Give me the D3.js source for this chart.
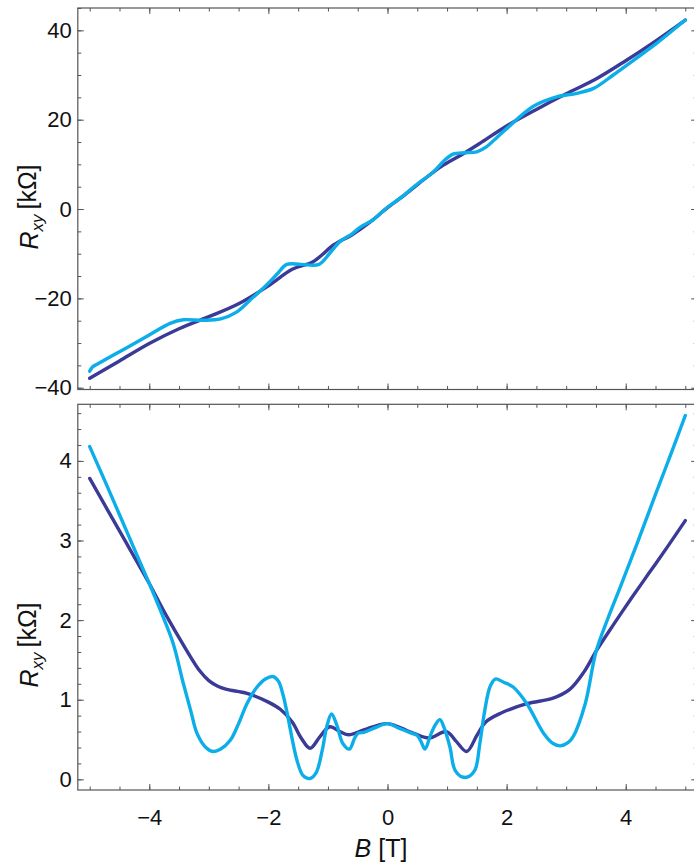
<!DOCTYPE html>
<html>
<head>
<meta charset="utf-8">
<script src="https://cdn.jsdelivr.net/npm/d3@7"></script>
<style>
  html, body { margin: 0; padding: 0; background: #fff; }
  svg { display: block; font-family: "Liberation Sans", Arial, sans-serif; }
</style>
</head>
<body>
<svg id="chart" width="694" height="862"></svg>
<script>
// Hall resistance R_xy versus magnetic field B, two traces per panel.

// Upper panel: R_xy [kOhm]
const bUpperDark = [-5.0, -4.5, -4.0, -3.5, -3.0, -2.5, -2.0, -1.6, -1.25, -0.9, -0.6, -0.3, 0.0,
  0.3, 0.6, 0.9, 1.25, 1.55, 2.0, 2.5, 3.0, 3.5, 4.0, 4.5, 5.0];
const rUpperDark = [-37.9, -34.0, -30.1, -26.8, -24.1, -21.2, -17.2, -13.5, -11.8, -8.0, -5.8, -3.0, 0.3,
  3.3, 6.5, 9.5, 12.2, 14.7, 18.6, 22.3, 25.8, 29.1, 33.2, 37.6, 42.3];

const bUpperLight = [-5.0, -4.95, -4.9, -4.4, -4.0, -3.65, -3.43, -3.1, -2.8, -2.55, -2.3, -2.03, -1.85,
  -1.69, -1.45, -1.15, -0.97, -0.8, -0.6, -0.45, -0.24, 0.0, 0.21, 0.5, 0.77, 0.95, 1.1, 1.3, 1.5, 1.66,
  1.85, 2.0, 2.45, 2.84, 3.18, 3.46, 3.79, 4.13, 4.5, 5.0];
const rUpperLight = [-36.3, -35.3, -34.9, -31.2, -28.2, -25.6, -24.8, -24.9, -24.6, -23.2, -20.3, -17.0, -14.5,
  -12.4, -12.4, -12.4, -9.9, -7.3, -5.6, -4.0, -2.4, 0.4, 2.4, 5.6, 8.3, 10.8, 12.3, 12.6, 12.8, 13.9,
  16.2, 18.0, 23.0, 25.1, 25.9, 27.0, 30.0, 33.3, 36.9, 42.3];

// Lower panel: R_xy [kOhm]
const bLowerDark = [-5.0, -4.5, -4.0, -3.76, -3.5, -3.3, -3.15, -3.0, -2.85, -2.7, -2.36, -2.0, -1.8, -1.6,
  -1.45, -1.3, -1.13, -0.97, -0.8, -0.65, -0.4, 0.0, 0.4, 0.7, 0.99, 1.15, 1.33, 1.5, 1.65, 1.9, 2.34,
  2.78, 3.06, 3.3, 3.51, 3.8, 4.1, 4.4, 4.7, 5.0];
const rLowerDark = [3.78, 3.12, 2.46, 2.12, 1.78, 1.53, 1.36, 1.24, 1.17, 1.13, 1.08, 0.97, 0.88, 0.72,
  0.52, 0.39, 0.54, 0.66, 0.60, 0.56, 0.62, 0.70, 0.59, 0.52, 0.60, 0.48, 0.35, 0.55, 0.72, 0.83, 0.95,
  1.02, 1.13, 1.35, 1.62, 1.95, 2.28, 2.6, 2.92, 3.25];

const bLowerLight = [-5.0, -4.7, -4.33, -4.0, -3.8, -3.6, -3.43, -3.3, -3.2, -3.05, -2.93, -2.8, -2.64,
  -2.5, -2.36, -2.2, -2.05, -1.92, -1.83, -1.75, -1.69, -1.52, -1.42, -1.3, -1.2, -1.1, -1.02, -0.94,
  -0.85, -0.75, -0.64, -0.55, -0.49, -0.4, -0.2, 0.0, 0.2, 0.4, 0.5, 0.56, 0.63, 0.72, 0.8, 0.88, 0.95,
  1.05, 1.13, 1.25, 1.35, 1.47, 1.55, 1.63, 1.72, 1.81, 1.95, 2.11, 2.34, 2.62, 2.78, 2.9, 3.03, 3.12,
  3.32, 3.5, 3.7, 3.9, 4.2, 4.5, 4.75, 5.0];
const rLowerLight = [4.18, 3.67, 3.03, 2.46, 2.1, 1.71, 1.21, 0.85, 0.58, 0.40, 0.35, 0.38, 0.49,
  0.70, 0.95, 1.15, 1.26, 1.29, 1.23, 1.05, 0.85, 0.24, 0.05, 0.01, 0.08, 0.35, 0.66, 0.82,
  0.68, 0.45, 0.38, 0.52, 0.58, 0.59, 0.65, 0.70, 0.64, 0.58, 0.55, 0.48, 0.38, 0.55, 0.68, 0.75, 0.65,
  0.40, 0.12, 0.03, 0.03, 0.12, 0.45, 0.85, 1.16, 1.26, 1.22, 1.16, 0.95, 0.58, 0.45, 0.42, 0.46, 0.54,
  0.95, 1.6, 2.02, 2.4, 2.98, 3.58, 4.07, 4.57];

// Tick values
const xMajorTicks = [-4, -2, 0, 2, 4];
const xMinorTicks = d3.range(-10, 11).map(i => i * 0.5);
const yUpperMajorTicks = [-40, -20, 0, 20, 40];
const yUpperMinorTicks = d3.range(-8, 10).map(i => i * 5);
const yLowerMajorTicks = [0, 1, 2, 3, 4];
const yLowerMinorTicks = d3.range(0, 24).map(i => +(i * 0.2).toFixed(1));

const DARK = "#3b3a96";
const LIGHT = "#0caeea";
const FRAME = "#555";

const svg = d3.select("#chart");

const x = d3.scaleLinear().domain([-5.2, 5.2]).range([77.8, 697.2]);

const panels = [
  {
    top: 8, bottom: 389.5, domain: [-40.4, 45.0],
    major: yUpperMajorTicks, minor: yUpperMinorTicks, showX: false, labelCenter: 207,
    series: [
      { b: bUpperDark, r: rUpperDark, color: DARK },
      { b: bUpperLight, r: rUpperLight, color: LIGHT }
    ]
  },
  {
    top: 404.3, bottom: 790, domain: [-0.134, 4.711],
    major: yLowerMajorTicks, minor: yLowerMinorTicks, showX: true, labelCenter: 645,
    series: [
      { b: bLowerDark, r: rLowerDark, color: DARK },
      { b: bLowerLight, r: rLowerLight, color: LIGHT }
    ]
  }
];

const fmt = v => (v < 0 ? "\u2212" + Math.abs(v) : String(v));
const MAJOR = 6, MINOR = 3.5;

panels.forEach(p => {
  const y = d3.scaleLinear().domain(p.domain).range([p.bottom, p.top]);
  const [x0, x1] = x.range();
  const g = svg.append("g");

  // clip the traces to the frame
  const clipId = "clip" + Math.round(p.top);
  g.append("clipPath").attr("id", clipId)
    .append("rect").attr("x", x0).attr("y", p.top).attr("width", x1 - x0).attr("height", p.bottom - p.top);

  const line = d3.line().x(d => x(d[0])).y(d => y(d[1])).curve(d3.curveCatmullRom.alpha(0.5));
  p.series.forEach(s => {
    const pts = s.b.map((b, i) => [b, s.r[i]]);
    g.append("path").attr("clip-path", `url(#${clipId})`)
      .attr("d", line(pts)).attr("fill", "none")
      .attr("stroke", s.color).attr("stroke-width", 3.4)
      .attr("stroke-linejoin", "round").attr("stroke-linecap", "round");
  });

  // axes: inward ticks on all four sides
  const addAxis = (gen, transform, cls) => {
    const a = g.append("g").attr("transform", transform).attr("class", cls).call(gen);
    a.select(".domain").remove();
    a.selectAll(".tick line").attr("stroke", FRAME);
    return a;
  };

  addAxis(d3.axisBottom(x).tickValues(xMinorTicks).tickSize(-MINOR).tickFormat(""), `translate(0,${p.bottom})`, "xminor");
  addAxis(d3.axisTop(x).tickValues(xMinorTicks).tickSize(-MINOR).tickFormat(""), `translate(0,${p.top})`, "xminor");
  addAxis(d3.axisTop(x).tickValues(xMajorTicks).tickSize(-MAJOR).tickFormat(""), `translate(0,${p.top})`, "xmajor");
  const xb = addAxis(d3.axisBottom(x).tickValues(xMajorTicks).tickSize(-MAJOR).tickPadding(19)
    .tickFormat(p.showX ? fmt : ""), `translate(0,${p.bottom})`, "xmajor");

  addAxis(d3.axisLeft(y).tickValues(p.minor).tickSize(-MINOR).tickFormat(""), `translate(${x0},0)`, "yminor");
  addAxis(d3.axisRight(y).tickValues(p.minor).tickSize(-MINOR).tickFormat(""), `translate(${x1},0)`, "yminor");
  addAxis(d3.axisRight(y).tickValues(p.major).tickSize(-MAJOR).tickFormat(""), `translate(${x1},0)`, "ymajor");
  const yl = addAxis(d3.axisLeft(y).tickValues(p.major).tickSize(-MAJOR).tickPadding(6).tickFormat(fmt),
    `translate(${x0},0)`, "ymajor");

  [xb, yl].forEach(a => a.selectAll("text")
    .attr("fill", "#111").style("font-size", "22px")
    .style("font-family", "'Liberation Sans', Arial, sans-serif"));

  g.append("rect").attr("x", x0).attr("y", p.top).attr("width", x1 - x0).attr("height", p.bottom - p.top)
    .attr("fill", "none").attr("stroke", FRAME).attr("stroke-width", 1.2);

  // y-axis title
  const t = g.append("text")
    .attr("transform", `translate(38,${p.labelCenter}) rotate(-90)`)
    .attr("text-anchor", "middle").attr("fill", "#111").style("font-size", "25px");
  t.append("tspan").attr("font-style", "italic").text("R");
  t.append("tspan").attr("font-style", "italic").attr("dy", "0.3em").style("font-size", "17px").text("xy");
  t.append("tspan").attr("dy", "-0.3em").text("\u2009[k\u03A9]");
});

// x-axis title
const xt = svg.append("text").attr("x", 381).attr("y", 857).attr("text-anchor", "middle")
  .attr("fill", "#111").style("font-size", "25px");
xt.append("tspan").attr("font-style", "italic").text("B");
xt.append("tspan").text(" [T]");
</script>
</body>
</html>
